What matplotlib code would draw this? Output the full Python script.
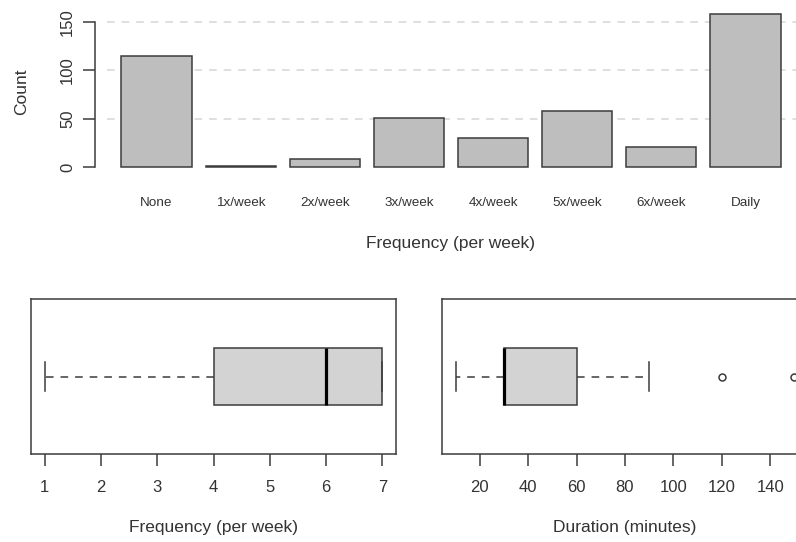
import numpy as np
import matplotlib
matplotlib.use("Agg")
import matplotlib.pyplot as plt

# Dados
categorias = ["None", "1x/week", "2x/week", "3x/week", "4x/week", "5x/week", "6x/week", "Daily"]
contagens = [115, 1, 8, 51, 30, 58, 21, 158]
y_ticks_barras = [0, 50, 100, 150]

# resumo dos boxplots (min do bigode, q1, mediana, q3, max do bigode, outliers)
freq_resumo = [1, 4, 6, 7, 7]
freq_outliers = []
freq_ticks = [1, 2, 3, 4, 5, 6, 7]

dur_resumo = [10, 30, 30, 60, 90]
dur_outliers = [120, 150]
dur_ticks = [20, 40, 60, 80, 100, 120, 140]

# Estilo
plt.rcParams['font.family'] = ['Liberation Sans', 'DejaVu Sans']
plt.rcParams['lines.scale_dashes'] = False
cor_texto = '#333333'
cor_linha = '#3c3c3c'
W, H = 796, 542

fig = plt.figure(figsize=(W / 100, H / 100), dpi=100)

def caixa(px_esq, px_dir, px_topo, px_base):
    return [px_esq / W, 1 - px_base / H, (px_dir - px_esq) / W, (px_base - px_topo) / H]

# Gráfico de barras
ax1 = fig.add_axes(caixa(95, 807, 8.2, 173.1))
n = len(categorias)
pos = 0.7 + 1.2 * np.arange(n)
ax1.hlines(y_ticks_barras[1:], 0, 9.976, colors='#d6d6d6', linewidth=1.1,
           linestyles=(0, (5.5, 5)), zorder=1)
ax1.bar(pos, contagens, width=1.0, color='#bebebe', edgecolor=cor_linha,
        linewidth=1.1, zorder=2)
ax1.set_xlim(-0.176, 9.976)
ax1.set_ylim(-6.32, 164.3)
for s in ['top', 'right', 'bottom']:
    ax1.spines[s].set_visible(False)
ax1.spines['left'].set_bounds(0, 150)
ax1.spines['left'].set_color(cor_linha)
ax1.spines['left'].set_linewidth(1.1)
ax1.set_yticks(y_ticks_barras)
ax1.set_xticks(pos)
ax1.set_xticklabels(categorias, fontsize=9.7, color=cor_texto)
ax1.tick_params(axis='x', length=0, pad=17)
ax1.tick_params(axis='y', length=8.6, width=1.1, color=cor_linha, pad=5.8,
                labelsize=12, labelcolor=cor_texto, labelrotation=90)
for lbl in ax1.get_yticklabels():
    lbl.set_va('center')
ax1.set_xlabel("Frequency (per week)", fontsize=12.5, color=cor_texto, va='center')
ax1.xaxis.set_label_coords(0.5, -0.424)
fig.text(21.5 / W, 1 - 91.5 / H, "Count", rotation=90, ha='center', va='center',
         fontsize=12.5, color=cor_texto)

# Boxplots
def boxplot(ax, resumo, outliers, ticks, xlim, rotulo):
    stats = [dict(whislo=resumo[0], q1=resumo[1], med=resumo[2], q3=resumo[3],
                  whishi=resumo[4], fliers=outliers)]
    ax.bxp(stats, positions=[1], widths=0.4, capwidths=0.2, vert=False,
           patch_artist=True, showfliers=True,
           boxprops=dict(facecolor='#d3d3d3', edgecolor=cor_linha, linewidth=1.1),
           medianprops=dict(color='black', linewidth=2.3, solid_capstyle='butt'),
           whiskerprops=dict(color=cor_linha, linewidth=1.1, linestyle=(0, (5.5, 5))),
           capprops=dict(color=cor_linha, linewidth=1.1),
           flierprops=dict(marker='o', markersize=5, markerfacecolor='none',
                           markeredgecolor=cor_linha, markeredgewidth=1.1))
    ax.set_xlim(*xlim)
    ax.set_ylim(0.46, 1.54)
    ax.set_yticks([])
    ax.set_xticks(ticks)
    ax.set_xticklabels([str(t) for t in ticks])
    for s in ax.spines.values():
        s.set_color(cor_linha)
        s.set_linewidth(1.1)
    ax.tick_params(axis='x', length=8.6, width=1.1, color=cor_linha, pad=10,
                   labelsize=12, labelcolor=cor_texto)
    ax.set_xlabel(rotulo, fontsize=12.5, color=cor_texto, va='center')
    ax.xaxis.set_label_coords(0.5, -0.477)

ax2 = fig.add_axes(caixa(31, 396, 299, 454))
boxplot(ax2, freq_resumo, freq_outliers, freq_ticks, (0.76, 7.24), "Frequency (per week)")

ax3 = fig.add_axes(caixa(442, 808, 299, 454))
boxplot(ax3, dur_resumo, dur_outliers, dur_ticks, (4.4, 155.6), "Duration (minutes)")

fig.savefig("out.png", dpi=100)
